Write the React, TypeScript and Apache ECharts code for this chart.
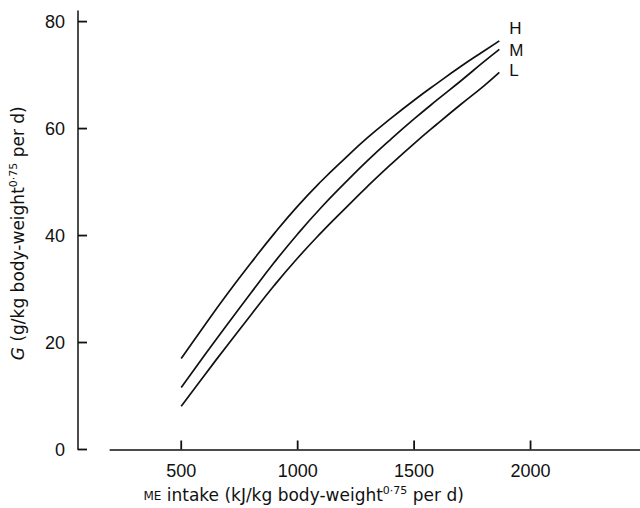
import React, { useEffect, useRef } from "react";
import * as echarts from "echarts";

const intake = [500, 600, 700, 800, 900, 1000, 1100, 1200, 1300, 1400, 1500, 1600, 1700, 1800, 1866];
const seriesH = [17.0, 23.2, 29.2, 34.9, 40.4, 45.5, 50.1, 54.3, 58.3, 61.9, 65.3, 68.5, 71.6, 74.5, 76.4];
const seriesM = [11.6, 17.6, 23.5, 29.3, 35.0, 40.3, 45.2, 49.7, 54.0, 58.0, 61.8, 65.4, 68.9, 72.5, 74.8];
const seriesL = [8.1, 13.9, 19.6, 25.2, 30.7, 35.8, 40.5, 44.9, 49.2, 53.3, 57.2, 60.9, 64.5, 68.0, 70.5];
const seriesNames = ["H", "M", "L"];
const xTicks = [500, 1000, 1500, 2000];
const yTicks = [0, 20, 40, 60, 80];

const X_MIN = 195;
const X_MAX = 2470;
const Y_MIN = 0;
const Y_MAX = 82;
const Y_OFFSET = 32.2;
const TICK_LEN = 9;

const FONT = "Liberation Sans, Arial, Helvetica, sans-serif";
const TFONT = "DejaVu Sans, Liberation Sans, sans-serif";
const INK = "#111";

export default function App() {
  const ref = useRef<HTMLDivElement>(null);
  useEffect(() => {
    document.body.style.margin = "0";
    const chart = echarts.init(ref.current!, null, { renderer: "svg" });
    const mk = (name: string, vals: number[], dy: number) => ({
      name,
      type: "line",
      data: intake.map((x, i) => [x, vals[i]]),
      smooth: true,
      showSymbol: false,
      symbol: "none",
      lineStyle: { color: INK, width: 1.7 },
      endLabel: {
        show: true,
        formatter: name,
        distance: 10,
        offset: [0, dy],
        color: INK,
        fontSize: 17,
        fontFamily: FONT,
      },
      silent: true,
    });
    const tickData = [
      ...xTicks.map((v) => [v, Y_MIN, 0]),
      ...yTicks.map((v) => [X_MIN, v, 1]),
    ];
    chart.setOption({
      animation: false,
      backgroundColor: "#fff",
      grid: { left: 97.2, right: 0, top: 10.9, bottom: 55.3, containLabel: false },
      xAxis: {
        type: "value",
        min: X_MIN,
        max: X_MAX,
        splitLine: { show: false },
        axisLine: { show: true, onZero: false, lineStyle: { color: INK, width: 1.5 } },
        axisTick: { show: false },
        axisLabel: {
          customValues: xTicks,
          formatter: (v: number) => String(v),
          color: INK,
          fontSize: 18,
          fontFamily: FONT,
          margin: 12,
        },
        name: "{sc|ME} intake (kJ/kg body-weight{sup|0·75} per d)",
        nameLocation: "middle",
        nameGap: 35,
        nameTextStyle: {
          color: INK,
          fontSize: 17,
          fontFamily: TFONT,
          padding: [0, 143, 0, 0],
          rich: {
            sc: { fontSize: 12, color: INK, fontFamily: TFONT, padding: [3, 0, 0, 0] },
            sup: { fontSize: 11, color: INK, fontFamily: TFONT, padding: [0, 0, 9, 0] },
          },
        },
      },
      yAxis: {
        type: "value",
        min: Y_MIN,
        max: Y_MAX,
        offset: Y_OFFSET,
        splitLine: { show: false },
        axisLine: { show: true, lineStyle: { color: INK, width: 1.5 } },
        axisTick: { show: false },
        axisLabel: {
          customValues: yTicks,
          formatter: (v: number) => String(v),
          color: INK,
          fontSize: 18,
          fontFamily: FONT,
          margin: 13,
        },
        name: "{it|G} (g/kg body-weight{sup|0·75} per d)",
        nameLocation: "middle",
        nameGap: 50,
        nameTextStyle: {
          color: INK,
          fontSize: 17,
          fontFamily: TFONT,
          padding: [0, 6, 0, 0],
          rich: {
            it: { fontSize: 17, fontStyle: "italic", color: INK, fontFamily: TFONT },
            sup: { fontSize: 11, color: INK, fontFamily: TFONT, padding: [0, 0, 9, 0] },
          },
        },
      },
      series: [
        mk(seriesNames[0], seriesH, -12),
        mk(seriesNames[1], seriesM, 1),
        mk(seriesNames[2], seriesL, -2),
        {
          type: "custom",
          name: "ticks",
          silent: true,
          clip: false,
          z: 10,
          data: tickData,
          encode: { x: 0, y: 1 },
          renderItem: (_params: any, api: any) => {
            const p = api.coord([api.value(0), api.value(1)]);
            const vertical = api.value(2) === 0;
            const shape = vertical
              ? { x1: p[0], y1: p[1], x2: p[0], y2: p[1] - TICK_LEN }
              : { x1: p[0] - Y_OFFSET, y1: p[1], x2: p[0] - Y_OFFSET + TICK_LEN, y2: p[1] };
            return { type: "line", shape, style: { stroke: INK, lineWidth: 1.8 } };
          },
        },
      ],
    });
    return () => chart.dispose();
  }, []);
  return <div ref={ref} style={{ width: 640, height: 508 }} />;
}
